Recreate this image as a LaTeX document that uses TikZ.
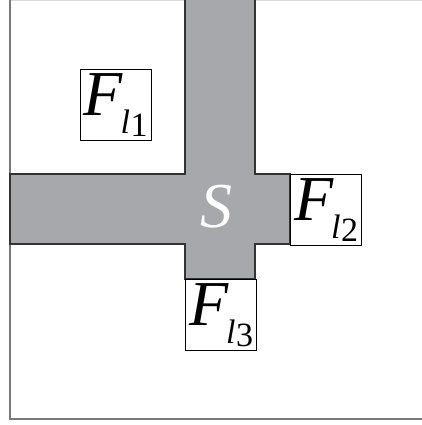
\documentclass[tikz,border=0pt]{standalone}
\usepackage{fontspec}
\setmainfont{Liberation Serif}
\definecolor{crossgray}{HTML}{A7A8AB}
\definecolor{framegray}{HTML}{7A7A7A}
\newcommand\FlabelSub[1]{{\fontsize{64}{64}\selectfont\itshape F}\kern-2pt\raisebox{-18pt}{\fontsize{34}{34}\selectfont\itshape l\kern0.5pt\raisebox{-3pt}{\upshape #1}}}
\tikzset{
  fbox/.style={draw=black, line width=1.2pt, fill=white, minimum width=71pt, minimum height=71pt, inner sep=0pt, anchor=north west},
  crossfill/.style={fill=crossgray, draw=black!80, line width=1.2pt, line join=miter},
  framestyle/.style={draw=framegray, line width=1.5pt}
}
\begin{document}
\begin{tikzpicture}[x=1pt, y=-1pt]
\useasboundingbox (0,0) rectangle (422,425);
% outer frame
\draw[draw=black!15, line width=1pt] (10,0.5) -- (422,0.5);
\draw[framestyle] (10,0) -- (10,419) -- (422,419);
% cross
\path[crossfill] (185,-2) -- (255,-2) -- (255,174) -- (290,174) -- (290,244) -- (255,244) -- (255,279) -- (185,279) -- (185,244) -- (10,244) -- (10,174) -- (185,174) -- cycle;
\node[text=white, inner sep=0pt] (s) at (216,207) {\fontsize{64}{64}\selectfont\itshape S};
% boxes
\node[fbox] (f1) at (79.5,69) {\FlabelSub{1}};
\node[fbox] (f2) at (290,174) {\FlabelSub{2}};
\node[fbox] (f3) at (185,279) {\FlabelSub{3}};
\end{tikzpicture}
\end{document}
